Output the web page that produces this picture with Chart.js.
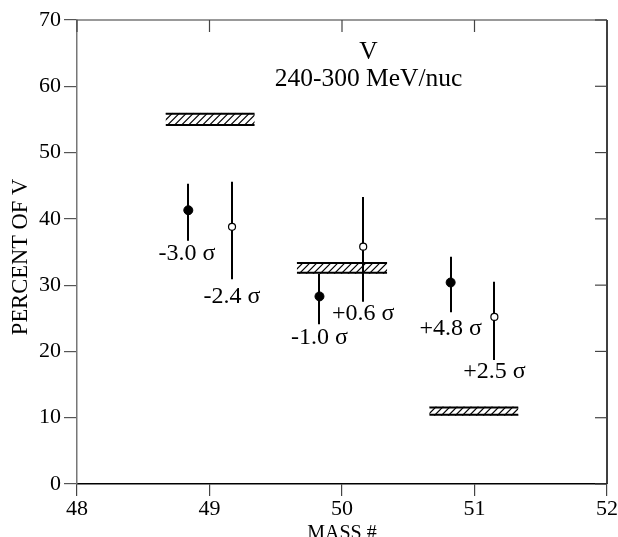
<!DOCTYPE html>
<html><head><meta charset="utf-8">
<script src="https://cdn.jsdelivr.net/npm/chart.js@4.4.0/dist/chart.umd.min.js"></script>
<style>html,body{margin:0;padding:0;background:#fff}#wrap{width:618px;height:537px}</style>
</head><body><div id="wrap"><canvas id="c"></canvas></div>
<script>
// ---- data ----
const filledMass = [48.84, 49.83, 50.82];
const filledPct  = [41.3, 28.3, 30.4];
const filledHi   = [45.3, 31.7, 34.3];
const filledLo   = [36.7, 24.1, 25.9];
const openMass = [49.17, 50.16, 51.15];
const openPct  = [38.8, 35.8, 25.2];
const openHi   = [45.6, 43.3, 30.5];
const openLo   = [30.9, 27.5, 18.7];
const bandMassLo = [48.67, 49.66, 50.66];
const bandMassHi = [49.34, 50.34, 51.33];
const bandLo = [54.0, 31.7, 10.3];
const bandHi = [56.0, 33.5, 11.7];
const sigmaText = ['-3.0 σ', '-2.4 σ', '-1.0 σ', '+0.6 σ', '+4.8 σ', '+2.5 σ'];
const sigmaMass = [48.83, 49.17, 49.83, 50.16, 50.82, 51.15];
const sigmaPct  = [34.8, 28.3, 22.0, 25.7, 23.5, 16.9];
const xTicks = [48, 49, 50, 51, 52];
const yTicks = [0, 10, 20, 30, 40, 50, 60, 70];
const titleLines = ['V', '240-300 MeV/nuc'];
const xTitle = 'MASS #';
const yTitle = 'PERCENT OF V';

const FONT = '"Liberation Serif", "Times New Roman", serif';

const overlay = {
  id: 'overlay',
  beforeDatasetsDraw(chart) {
    const {ctx, scales: {x, y}} = chart;
    // hatched bands
    for (let i = 0; i < bandLo.length; i++) {
      const x0 = x.getPixelForValue(bandMassLo[i]), x1 = x.getPixelForValue(bandMassHi[i]);
      const y0 = y.getPixelForValue(bandHi[i]), y1 = y.getPixelForValue(bandLo[i]);
      ctx.save();
      ctx.beginPath(); ctx.rect(x0, y0, x1 - x0, y1 - y0); ctx.clip();
      ctx.strokeStyle = '#000'; ctx.lineWidth = 1.2;
      const h = y1 - y0;
      for (let xx = x0 - h; xx < x1 + h; xx += 7) {
        ctx.beginPath(); ctx.moveTo(xx, y1); ctx.lineTo(xx + h, y0); ctx.stroke();
      }
      ctx.restore();
      ctx.save();
      ctx.strokeStyle = '#000'; ctx.lineWidth = 2;
      ctx.beginPath();
      ctx.moveTo(x0, y0 + 1); ctx.lineTo(x1, y0 + 1);
      ctx.moveTo(x0, y1 - 1); ctx.lineTo(x1, y1 - 1);
      ctx.stroke();
      ctx.restore();
    }
    // error bars
    ctx.save();
    ctx.strokeStyle = '#000'; ctx.lineWidth = 2;
    const bars = (m, lo, hi) => {
      for (let i = 0; i < m.length; i++) {
        const px = Math.round(x.getPixelForValue(m[i]));
        ctx.beginPath();
        ctx.moveTo(px, y.getPixelForValue(hi[i]));
        ctx.lineTo(px, y.getPixelForValue(lo[i]));
        ctx.stroke();
      }
    };
    bars(filledMass, filledLo, filledHi);
    bars(openMass, openLo, openHi);
    ctx.restore();
  },
  afterDraw(chart) {
    const {ctx, chartArea: a, scales: {x, y}} = chart;
    ctx.save();
    // frame: top (grey) and right (black) with inward ticks
    ctx.lineWidth = 1.5;
    ctx.strokeStyle = '#777';
    ctx.beginPath(); ctx.moveTo(a.left, a.top); ctx.lineTo(a.right, a.top); ctx.stroke();
    ctx.strokeStyle = '#000';
    ctx.beginPath(); ctx.moveTo(a.right, a.top); ctx.lineTo(a.right, a.bottom); ctx.stroke();
    ctx.strokeStyle = '#444'; ctx.lineWidth = 1.2;
    xTicks.forEach(v => {
      const px = x.getPixelForValue(v);
      ctx.beginPath(); ctx.moveTo(px, a.top); ctx.lineTo(px, a.top + 12); ctx.stroke();
    });
    yTicks.forEach(v => {
      const py = y.getPixelForValue(v);
      ctx.beginPath(); ctx.moveTo(a.right, py); ctx.lineTo(a.right - 12, py); ctx.stroke();
    });
    // texts
    ctx.fillStyle = '#000';
    ctx.textAlign = 'center'; ctx.textBaseline = 'middle';
    ctx.font = '25.5px ' + FONT;
    const cx = x.getPixelForValue(50.2);
    ctx.fillText(titleLines[0], cx, y.getPixelForValue(65.2));
    ctx.fillText(titleLines[1], cx, y.getPixelForValue(61.0));
    ctx.font = '24px ' + FONT;
    for (let i = 0; i < sigmaText.length; i++) {
      ctx.fillText(sigmaText[i], x.getPixelForValue(sigmaMass[i]), y.getPixelForValue(sigmaPct[i]));
    }
    ctx.font = '20px ' + FONT;
    ctx.fillText(xTitle, (a.left + a.right) / 2, a.bottom + 50);
    ctx.font = '22.5px ' + FONT;
    ctx.translate(21, 257);
    ctx.rotate(-Math.PI / 2);
    ctx.fillText(yTitle, 0, 0);
    ctx.restore();
  }
};

new Chart(document.getElementById('c'), {
  type: 'scatter',
  data: {
    datasets: [
      { data: filledMass.map((m, i) => ({x: m, y: filledPct[i]})),
        pointRadius: 4.5, backgroundColor: '#000', borderColor: '#000', borderWidth: 1 },
      { data: openMass.map((m, i) => ({x: m, y: openPct[i]})),
        pointRadius: 3.5, backgroundColor: '#fff', borderColor: '#000', borderWidth: 1.2 }
    ]
  },
  options: {
    responsive: true, maintainAspectRatio: false, animation: false,
    layout: { padding: { left: 0, right: 11, top: 20, bottom: 0 } },
    plugins: { legend: { display: false }, tooltip: { enabled: false } },
    scales: {
      x: {
        type: 'linear', min: 48, max: 52,
        afterFit(s) { s.height = 53; },
        afterBuildTicks(s) { s.ticks = xTicks.map(v => ({value: v})); },
        grid: { drawOnChartArea: false, drawTicks: true, tickLength: 12, color: '#444', lineWidth: 1.2 },
        border: { color: '#000', width: 1.5 },
        ticks: { color: '#000', font: { family: FONT, size: 22 }, padding: 0, maxRotation: 0 }
      },
      y: {
        min: 0, max: 70,
        afterFit(s) { s.width = 77; },
        afterBuildTicks(s) { s.ticks = yTicks.map(v => ({value: v})); },
        grid: { drawOnChartArea: false, drawTicks: true, tickLength: 13, color: '#555', lineWidth: 1.2 },
        border: { color: '#777', width: 1.5 },
        ticks: { color: '#000', font: { family: FONT, size: 22 }, padding: 3 }
      }
    }
  },
  plugins: [overlay]
});
</script>
</body></html>
